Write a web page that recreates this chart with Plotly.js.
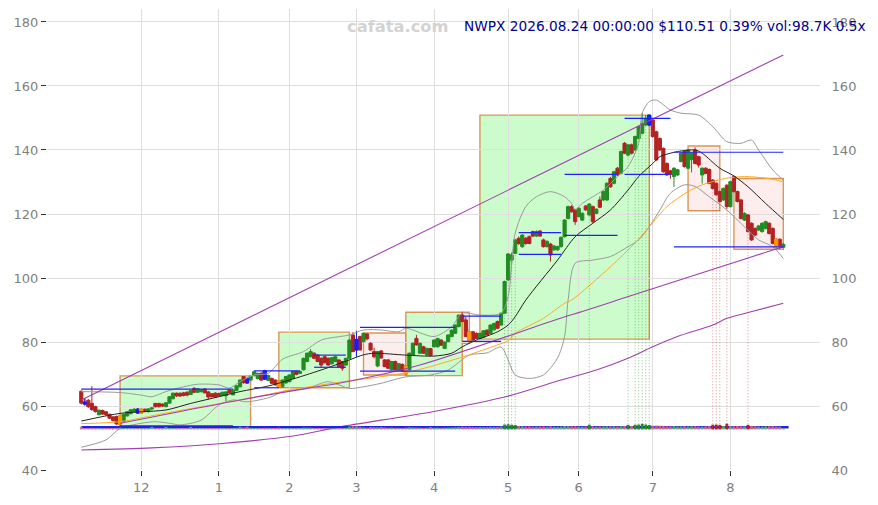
<!DOCTYPE html>
<html><head><meta charset="utf-8">
<script src="https://cdn.plot.ly/plotly-3.0.1.min.js"></script>
<style>html,body{margin:0;padding:0;background:#fff}#chart{width:878px;height:505px}</style>
</head><body><div id="chart"></div>
<script>
// ---------- data (trading-day index 0 = 2025-11-05, last = 2026-08-24) ----------
const monthTickIdx  = [17, 39, 59, 78, 100, 121, 141, 162, 184];
const monthTickText = ['12','1','2','3','4','5','6','7','8'];

const opens = [
64.6,61.2,61.8,60.8,59.8,57.3,58.6,58.2,57.4,56.6, 56.7,54.3,55.2,56.9,57.6,58.3,59.0,57.8,59.0,58.2,
59.1,60.8,60.8,60.6,59.8,60.9,62.3,64.0,64.0,64.1, 64.3,63.6,65.5,64.3,64.5,65.3,64.4,63.8,64.0,63.9,
63.3,63.2,65.0,63.5,64.9,66.0,69.2,68.6,68.1,69.5, 68.6,70.2,71.0,68.0,68.6,68.1,67.8,66.0,67.2,67.6,
68.6,70.8,70.2,71.3,73.9,75.4,76.5,75.9,74.9,75.4, 74.9,73.2,73.9,74.4,73.9,72.8,74.9,82.2,77.5,81.7,
80.1,82.5,79.6,77.0,72.5,77.2,74.4,74.4,71.3,73.9, 71.2,73.0,72.4,71.3,75.9,81.1,76.5,78.5,75.9,77.9,
78.5,78.5,80.6,78.0,80.1,81.7,82.7,84.8,88.4,86.9, 83.2,83.2,82.7,81.1,81.5,83.7,82.7,83.8,86.4,85.3,
89.0,99.4,105.6,107.7,112.4,109.8,112.4,112.9,114.5,113.1, 114.7,111.9,109.8,110.6,108.8,108.8,109.8,112.9,118.6,122.3,
121.3,119.2,118.1,122.5,119.7,122.3,120.2,124.4,124.4,124.4, 131.1,129.6,134.3,132.7,142.1,138.4,141.6,140.0,143.6,145.2,
147.8,147.8,149.4,145.7,143.6,140.5,135.8,133.5,131.7,132.2, 136.4,139.5,134.3,137.0,140.0,137.9,132.2,134.3,133.9,130.6,
129.6,127.0,124.4,129.0,122.3,131.7,127.0,124.4,118.1,119.7, 117.1,115.5,115.0,114.5,115.5,117.1,115.5,112.1,112.1,109.6];
const highs = [
64.9,62.4,62.1,66.2,60.1,58.9,58.9,58.4,57.6,56.9, 57.0,57.3,57.6,58.4,59.0,59.3,59.3,59.2,59.2,59.3,
59.6,61.0,61.0,60.8,61.2,63.1,64.2,64.2,64.2,64.4, 64.6,65.0,65.9,65.6,65.3,65.5,64.7,64.0,64.3,64.2,
64.5,64.6,65.3,65.2,66.5,68.3,69.4,68.8,69.4,71.1, 70.4,70.6,71.3,69.8,68.9,68.3,68.0,68.3,69.4,69.9,
71.0,71.0,71.0,75.1,76.7,77.8,76.8,76.2,75.2,75.7, 75.2,75.3,75.7,74.6,74.1,75.1,80.8,83.1,83.5,82.0,
82.9,82.8,79.9,78.2,77.2,77.5,74.7,74.7,74.1,74.2, 73.4,73.3,72.8,76.7,79.8,82.2,79.8,78.8,78.2,78.2,
80.8,81.3,80.9,80.2,82.4,83.9,85.5,88.6,89.3,87.9, 84.0,83.5,83.0,82.9,83.7,84.0,85.5,86.0,86.7,89.2,
99.2,107.8,108.0,112.2,113.0,113.7,112.8,113.3,114.8,114.9, 114.9,112.3,111.8,111.0,110.3,110.1,113.0,118.4,122.6,122.8,
121.6,122.1,120.5,122.8,123.4,122.6,121.8,125.5,127.3,129.9, 131.6,133.5,134.7,139.8,142.5,141.9,142.0,144.5,147.6,151.5,
150.9,151.0,150.0,146.0,143.9,140.8,136.1,133.8,134.6,134.1, 139.3,139.8,140.3,139.3,140.8,138.2,134.6,134.6,134.2,130.9,
129.9,127.3,128.3,129.3,130.4,132.0,127.3,124.7,120.5,120.0, 117.4,115.8,116.6,117.4,117.9,117.4,115.8,112.4,112.4,111.0];
const lows = [
60.5,60.2,59.4,58.5,57.9,57.0,57.2,57.0,55.9,55.2, 54.1,53.6,55.0,56.7,57.4,57.9,57.6,57.6,58.0,58.0,
58.6,59.5,59.5,59.7,59.6,60.7,62.0,62.8,62.9,63.0, 63.0,63.4,64.0,64.1,64.2,64.0,62.0,62.6,62.7,63.0,
63.1,61.5,63.9,63.3,64.6,65.8,67.0,67.0,67.9,69.2, 68.3,67.8,68.2,67.8,66.9,66.4,65.7,65.8,67.0,67.4,
68.4,69.6,70.0,71.1,73.7,75.2,74.6,73.7,72.0,73.3, 72.6,73.0,73.7,72.1,71.0,72.6,74.7,76.8,75.4,77.3,
79.9,80.5,77.3,74.9,72.1,74.8,72.1,71.6,71.1,71.1, 71.0,70.6,69.4,71.1,75.7,78.9,76.3,76.3,75.7,75.6,
78.3,78.3,78.8,77.8,79.9,81.5,82.5,84.6,86.2,81.5, 79.6,80.4,80.9,80.9,81.3,82.0,82.5,83.5,84.0,85.1,
88.8,99.0,104.5,107.4,110.3,109.4,110.4,110.5,112.8,112.8, 112.9,109.5,109.5,105.1,108.5,108.5,109.5,112.6,118.3,120.4,
116.6,118.9,117.8,120.9,119.5,117.2,119.9,121.8,124.1,124.1, 128.2,129.3,131.9,132.4,138.7,138.1,138.6,139.7,143.3,144.9,
147.5,147.5,143.9,136.6,139.7,132.9,131.9,131.0,128.5,131.9, 136.1,134.5,134.0,133.0,135.5,134.5,129.5,132.4,129.3,127.7,
125.7,123.6,124.1,121.5,122.0,126.7,123.6,118.3,117.8,114.2, 111.6,113.1,114.7,114.2,115.2,113.6,110.5,109.5,109.0,109.3];
const closes = [
60.9,60.6,59.8,58.9,58.3,58.7,57.5,57.3,56.2,55.5, 54.4,57.0,57.4,58.2,58.8,59.0,57.8,59.0,58.3,59.1,
59.4,59.8,59.8,60.0,61.0,62.9,64.0,63.2,63.1,63.3, 63.4,64.8,64.3,65.4,65.1,64.1,62.8,62.9,62.8,63.2,
64.3,64.4,64.1,65.0,66.3,68.1,67.3,67.2,69.3,70.7, 70.2,68.1,68.4,69.5,67.1,66.6,65.9,68.1,69.2,69.7,
70.8,69.9,70.8,74.9,76.5,77.0,74.9,73.9,72.8,73.5, 72.8,75.1,75.4,72.3,71.8,74.9,80.6,77.0,80.8,77.5,
82.7,81.0,77.5,75.4,77.0,75.0,72.3,71.8,73.9,71.3, 73.2,70.9,70.0,76.5,79.6,79.1,79.6,76.5,78.0,75.8,
80.6,81.1,79.0,80.0,82.2,83.7,85.3,88.4,86.4,81.7, 80.2,80.6,81.1,82.7,83.5,82.2,85.3,85.8,84.3,89.0,
98.9,107.5,107.2,111.9,110.8,113.4,110.8,110.8,113.1,114.5, 113.1,109.8,111.4,107.2,110.0,109.8,112.7,118.1,122.3,120.7,
117.6,121.8,120.2,121.3,123.1,117.6,121.5,122.1,127.0,129.6, 128.5,133.2,132.2,139.5,139.0,141.6,139.0,144.2,147.3,148.3,
149.9,150.9,144.2,136.9,140.0,133.2,132.2,132.4,134.3,133.8, 139.0,134.8,140.0,139.0,135.8,135.3,134.3,132.7,129.6,128.0,
126.0,123.9,128.0,122.3,130.1,127.0,123.9,118.6,120.2,114.5, 111.9,113.4,116.25,117.1,117.6,113.9,110.8,109.8,110.08,110.51];
const volumesK = [
180,90,80,110,80,70,60,80,90,100, 110,120,90,80,70,70,90,80,60,70,
170,80,70,60,170,90,100,70,60,60, 70,170,80,70,60,70,90,80,60,60,
70,90,80,70,110,180,130,180,110,100, 90,80,110,70,80,90,120,80,70,80,
100,80,90,130,120,110,90,80,100,80, 80,90,70,90,100,110,200,230,220,190,
140,120,170,160,150,170,140,120,130,110, 110,100,130,150,140,130,120,110,120,160,
120,130,110,120,130,140,150,170,190,180, 180,170,160,170,160,170,180,170,180,200,
330,350,320,300,240,220,200,210,190,200, 200,210,190,220,190,180,200,230,240,210,
220,200,190,200,320,220,190,210,200,220, 210,220,200,230,240,310,230,320,330,380,
330,300,260,270,250,240,220,210,230,200, 210,220,200,210,220,200,190,210,230,320,
330,310,230,390,240,220,230,250,210,310, 240,220,200,190,210,220,230,200,190,98.7];

const blueIdx   = [1, 16, 47, 52, 78, 161];
const orangeIdx = [11, 17, 56, 92, 110, 197];
const upSpikeIdx   = [120, 121, 122, 123, 144, 155, 157, 158, 159, 160, 161];
const downSpikeIdx = [179, 180, 181, 183, 189];
const baseLevel = 53.35;

// moving averages / bands
const sma20Idx = [0,11,17,24,31,39,45,53,59,68,76,80,83,92,100,105,108,112,118,121,123,126,135,140,145,150,155,158,162,164,169,174,176,181,185,189,194,199];
const sma20Val = [55.3,57.7,58.2,58.75,60.8,62.9,64.5,66.25,68.1,71.25,74.4,76.0,76.5,75.9,75.6,76.5,78.5,80.6,83.2,85.3,87.9,93.1,105.6,112.9,117.1,121.25,127.5,131.7,135.8,137.9,139.5,140,139,134.3,131.9,128.5,123.3,118.3];
const sma50Idx = [0,11,24,48,59,71,92,106,118,121,123,131,137,139,150,157,161,166,172,176,183,188,194,199];
const sma50Val = [54.5,55.1,57.8,62.5,65,67.1,70.4,74.6,79.1,80.4,82.7,87.4,92.1,93.1,103.5,111,116,122.3,127,129.1,131.2,131.7,131.2,130.1];
const bbUpIdx = [0,11,17,20,24,29,33,39,42,45,49,53,57,63,68,76,80,85,90,92,100,105,108,113,119,121,123,126,129,133,137,139,140,142,148,152,155,158,159,161,163,167,170,175,179,183,187,190,192,196,199];
const bbUpVal = [64.5,64.2,63.4,62.9,64.5,66,66.8,66.6,65.6,67.6,69.7,70.2,74.6,77,80.6,82.2,83.75,83.75,83.2,84.3,81.7,84.8,89,88.4,89,94.2,114,122.3,125.4,127,125.4,123.3,121.25,123.3,127.5,131.7,134.8,142.1,151.5,155.1,155.6,152.5,151.5,150.9,147.3,142.6,142.1,143.1,140,133.75,130.6];
const bbLoIdx = [0,7,11,17,21,25,28,34,39,43,47,54,57,64,70,76,80,85,92,99,104,110,115,119,121,123,127,131,135,137,138,140,145,150,155,158,161,164,167,171,174,178,183,188,192,196,199];
const bbLoVal = [47.1,49.4,53,54.6,55.1,54.6,54.1,55.6,60.3,61.9,61.3,62.9,64.5,65.5,67.6,65.5,66,67.1,69.1,69.7,71.25,75.9,76.6,78.4,74.4,69.7,68.6,69.7,75,81.7,93.1,104.6,105.6,106.7,109.8,111.9,116,121.25,126.5,129.1,128.6,125.4,121.25,116,111.9,109.8,106.1];
// trend lines
const trendTopIdx = [0, 199];
const trendTopVal = [61.9, 169.7];
const trendMidIdx = [11,45,64,73,96,136,142,152,199];
const trendMidVal = [54.6,61.9,65.5,67.1,72.8,87.5,89.5,93.1,109.8];
const trendLowIdx = [0,20,40,60,73,100,120,136,146,155,162,169,179,183,189,199];
const trendLowVal = [46.25,46.9,48.3,50.6,53.4,58.3,62.8,68.1,71.25,74.9,78.5,81.7,85.3,87.4,89.2,92.1];
// zones
const zoneStart = [11, 56, 80, 92, 108, 113, 172, 185];
const zoneEnd   = [48, 76, 92, 108, 110, 161, 181, 199];
const zoneLow   = [53.4, 65.7, 69.7, 69.5, 79.6, 80.9, 121.0, 109.0];
const zoneHigh  = [69.4, 83.1, 82.8, 89.3, 89.3, 150.9, 141.25, 131.1];
const zoneUp    = [true, true, false, true, false, true, false, false];
// support / resistance levels
const levelFrom  = [0, 11, 49, 49, 66, 66, 79, 79, 108, 108, 124, 124, 137, 137, 154, 154, 168, 168];
const levelTo    = [43, 43, 62, 56, 75, 75, 106, 106, 119, 119, 136, 136, 152, 152, 167, 167, 199, 199];
const levelPrice = [65.3, 53.8, 71.0, 65.7, 75.9, 72.1, 84.6, 70.9, 88.1, 80.2, 114.2, 107.4, 132.4, 113.3, 149.9, 132.4, 139.3, 109.7];

const titleText = 'NWPX 2026.08.24 00:00:00 $110.51 0.39% vol:98.7K 0.5x';

// ---------- build ----------
const idx = opens.map((_, i) => i);
const GREEN = '#228b22', RED = '#b22222';
const traces = [];

function lineTrace(x, y, color, width, shape) {
  return {type:'scatter', mode:'lines', x:x, y:y, hoverinfo:'skip', showlegend:false,
          line:{color:color, width:width, shape:shape||'linear', smoothing:0.8}};
}
traces.push(lineTrace(bbUpIdx, bbUpVal, '#9a9a9a', 1, 'spline'));
traces.push(lineTrace(bbLoIdx, bbLoVal, '#9a9a9a', 1, 'spline'));
traces.push(lineTrace(sma50Idx, sma50Val, '#ffaa22', 1, 'spline'));
traces.push(lineTrace(sma20Idx, sma20Val, '#222222', 1, 'spline'));
traces.push(lineTrace(trendTopIdx, trendTopVal, '#a040b0', 1.1));
traces.push(lineTrace(trendMidIdx, trendMidVal, '#a040b0', 1.1, 'spline'));
traces.push(lineTrace(trendLowIdx, trendLowVal, '#a040b0', 1.1, 'spline'));

// spike dotted lines
function spikeTrace(list, color) {
  const x = [], y = [];
  list.forEach(i => { x.push(i, i, null); y.push(baseLevel, lows[i], null); });
  return {type:'scatter', mode:'lines', x:x, y:y, hoverinfo:'skip', showlegend:false,
          line:{color:color, width:0.8, dash:'1px,2px'}};
}
traces.push(spikeTrace(upSpikeIdx, 'rgba(34,139,34,0.65)'));
traces.push(spikeTrace(downSpikeIdx, 'rgba(200,40,40,0.65)'));

// candles
traces.push({type:'candlestick', x:idx, open:opens, high:highs, low:lows, close:closes,
  hoverinfo:'skip', showlegend:false, whiskerwidth:0,
  increasing:{line:{color:GREEN, width:1}, fillcolor:GREEN},
  decreasing:{line:{color:RED, width:1}, fillcolor:RED}});
function special(list, color) {
  return {type:'candlestick', x:list, open:list.map(i=>opens[i]), high:list.map(i=>highs[i]),
    low:list.map(i=>lows[i]), close:list.map(i=>closes[i]), hoverinfo:'skip', showlegend:false, whiskerwidth:0,
    increasing:{line:{color:color, width:1}, fillcolor:color},
    decreasing:{line:{color:color, width:1}, fillcolor:color}};
}
traces.push(special(blueIdx, '#1a1aff'));
traces.push(special(orangeIdx, '#ff9900'));

// levels
(function(){
  const x = [], y = [];
  levelFrom.forEach((f, k) => { x.push(f, levelTo[k], null); y.push(levelPrice[k], levelPrice[k], null); });
  traces.push({type:'scatter', mode:'lines', x:x, y:y, hoverinfo:'skip', showlegend:false,
               line:{color:'#2020ff', width:1.2}});
})();
// volume base line
traces.push({type:'scatter', mode:'lines', x:[idx[0], idx[idx.length-1] + 1.5], y:[baseLevel, baseLevel],
             hoverinfo:'skip', showlegend:false, line:{color:'#2020ee', width:2.4}});
// volume (drawn over the base line)
const spikeSet = new Set(upSpikeIdx.concat(downSpikeIdx));
traces.push({type:'bar', x:idx, y:volumesK, yaxis:'y2', hoverinfo:'skip', showlegend:false,
  marker:{line:{width:0}, color: idx.map(i => {
    const up = closes[i] >= opens[i];
    if (spikeSet.has(i)) return up ? 'rgba(34,139,34,1)' : 'rgba(190,30,30,1)';
    return up ? 'rgba(100,175,100,0.9)' : 'rgba(215,105,125,0.9)';
  })}, width:0.8});
// right axis carrier
traces.push({type:'scatter', mode:'lines', x:[0], y:[100], yaxis:'y3', hoverinfo:'skip', showlegend:false,
             line:{width:0}, opacity:0});

const shapes = zoneStart.map((s, k) => ({
  type:'rect', xref:'x', yref:'y', layer:'below',
  x0:s, x1:zoneEnd[k], y0:zoneLow[k], y1:zoneHigh[k],
  fillcolor: zoneUp[k] ? 'rgba(170,250,170,0.6)' : 'rgba(250,215,215,0.45)',
  line:{color:'rgba(215,140,70,0.9)', width:1.4}
}));

const Y0 = 40, Y1 = 184.06;
const tickFont = {family:'DejaVu Sans, sans-serif', size:13, color:'#808080'};
const layout = {
  width:878, height:505, margin:{l:47, r:58, t:9, b:35},
  paper_bgcolor:'#ffffff', plot_bgcolor:'#ffffff', showlegend:false,
  boxgap:0.1, boxgroupgap:0,
  xaxis:{range:[-9.72, 209.4], tickmode:'array', tickvals:monthTickIdx, ticktext:monthTickText,
         showgrid:true, gridcolor:'#dedede', gridwidth:1, zeroline:false, showline:false,
         ticks:'outside', ticklen:5, tickcolor:'#333', tickfont:tickFont, rangeslider:{visible:false}, fixedrange:true},
  yaxis:{range:[Y0, Y1], tick0:40, dtick:20, showgrid:true, gridcolor:'#dedede', gridwidth:1,
         zeroline:false, showline:false, ticks:'outside', ticklen:5, tickcolor:'#333', tickfont:tickFont},
  yaxis2:{overlaying:'y', range:[-2700, 28033], visible:false, fixedrange:true},
  yaxis3:{overlaying:'y', side:'right', range:[Y0, Y1], tick0:40, dtick:20, showgrid:false, zeroline:false,
          showline:false, ticks:'outside', ticklen:8, tickcolor:'rgba(0,0,0,0)', tickfont:tickFont},
  shapes:shapes,
  annotations:[
    {text:'cafata.com', xref:'paper', yref:'paper', x:(397.5-47)/773, y:(470-26)/461, xanchor:'center', yanchor:'middle',
     showarrow:false, font:{family:'DejaVu Sans, sans-serif', size:16.3, color:'#d3d3d3', weight:'bold'}},
    {text:titleText, xref:'paper', yref:'paper', x:(868-47)/773, y:(470-26)/461, xanchor:'right', yanchor:'middle',
     showarrow:false, font:{family:'DejaVu Sans, sans-serif', size:13.7, color:'#00008b'}}
  ]
};
Plotly.newPlot('chart', traces, layout, {staticPlot:true, displayModeBar:false});
</script>
</body></html>
